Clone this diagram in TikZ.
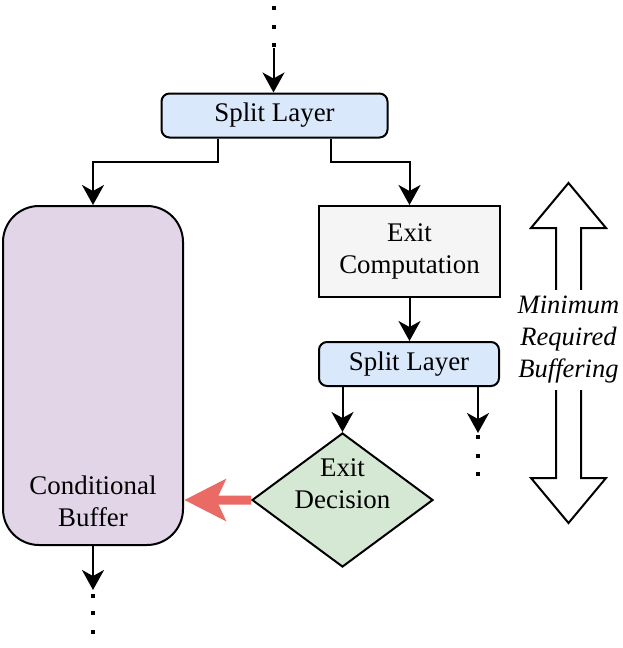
\documentclass[tikz,border=0pt]{standalone}
\usepackage{fontspec}
\setmainfont{Liberation Serif}
\usetikzlibrary{arrows.meta,shapes.geometric,calc}
\definecolor{cblue}{HTML}{DAE8FC}
\definecolor{cpurple}{HTML}{E1D5E7}
\definecolor{cgray}{HTML}{F5F5F5}
\definecolor{cgreen}{HTML}{D5E8D4}
\definecolor{cred}{HTML}{EA6B66}
\tikzset{
  txt/.style={font=\fontsize{26.9}{32}\selectfont, align=center, inner sep=0pt},
  splitbox/.style={draw, line width=2pt, fill=cblue, rounded corners=8pt, minimum height=44pt, txt},
  compbox/.style={draw, line width=2pt, fill=cgray, minimum width=181pt, minimum height=91pt, txt},
  bufbox/.style={draw, line width=2pt, fill=cpurple, rounded corners=36pt, minimum width=180pt, minimum height=339pt, inner sep=0pt},
  decbox/.style={draw, line width=2pt, fill=cgreen, diamond, minimum width=181pt, minimum height=134pt, inner sep=0pt},
  arr/.style={line width=2pt, -{Stealth[length=20pt,width=22pt,inset=6pt]}},
  redfill/.style={fill=cred},
  dotsq/.style={fill=black},
  bigarrow/.style={draw, line width=2pt, fill=white, line join=miter},
  sidetxt/.style={font=\fontsize{26.5}{32}\selectfont\itshape, align=center, fill=white, inner sep=0pt, minimum height=100pt}
}
\begin{document}
\begin{tikzpicture}[x=1pt,y=-1pt]
\useasboundingbox (0,0) rectangle (623,648);

% top dots
\fill[dotsq] (271.5,6) rectangle ++(4,4);
\fill[dotsq] (271.5,25) rectangle ++(4,4);
\fill[dotsq] (271.5,43) rectangle ++(4,4);
\coordinate (topin) at (273.5,48);

\node[splitbox, minimum width=226pt] (s1) at (274.5,115.5) {Split Layer};
\node[bufbox] (buf) at (93,375.5) {};
\node[txt] (buftxt) at (93,501) {Conditional\\Buffer};
\node[compbox] (comp) at (409.5,251.5) {Exit\\Computation};
\node[splitbox, minimum width=180pt] (s2) at (409,364) {Split Layer};
\node[decbox] (dec) at (342.5,500) {};
\node[txt] (dectxt) at (342.5,484) {Exit\\Decision};

% connectors
\draw[arr] (topin) -- (s1.north -| topin);
\draw[arr] ($(s1.south)+(-56.5,0)$) -- ++(0,23) -| (buf.north);
\draw[arr] ($(s1.south)+(56.5,0)$) -- ++(0,23) -| (comp.north);
\draw[arr] (comp.south) -- (comp.south |- s2.north);
\draw[arr] (s2.south -| dec.north) -- (dec.north);
\coordinate (rightout) at (478,433);
\draw[arr] (s2.south -| rightout) -- (rightout);
\fill[dotsq] (476,435) rectangle ++(4,4);
\fill[dotsq] (476,454) rectangle ++(4,4);
\fill[dotsq] (476,472) rectangle ++(4,4);

% red arrow from decision to buffer
\coordinate (redtip) at ($(buf.east |- dec.west)+(0.5,0)$);
\fill[redfill] ($(dec.west)+(0,-4.5)$) -- ($(redtip)+(34,-4.5)$) -- ($(redtip)+(42,-21.5)$)
  -- (redtip) -- ($(redtip)+(42,21.5)$) -- ($(redtip)+(34,4.5)$) -- ($(dec.west)+(0,4.5)$) -- cycle;

% bottom
\coordinate (botout) at (93,590);
\draw[arr] (buf.south) -- (botout);
\fill[dotsq] (91,594) rectangle ++(4,4);
\fill[dotsq] (91,611) rectangle ++(4,4);
\fill[dotsq] (91,630) rectangle ++(4,4);

% big double arrow
\draw[bigarrow] (568.5,183) -- (606,228) -- (581,228) -- (581,478) -- (606,478) -- (568.5,523)
  -- (531,478) -- (556,478) -- (556,228) -- (531,228) -- cycle;
\node[sidetxt] (side) at (568.5,339.5) {Minimum\\Required\\Buffering};
\end{tikzpicture}
\end{document}
